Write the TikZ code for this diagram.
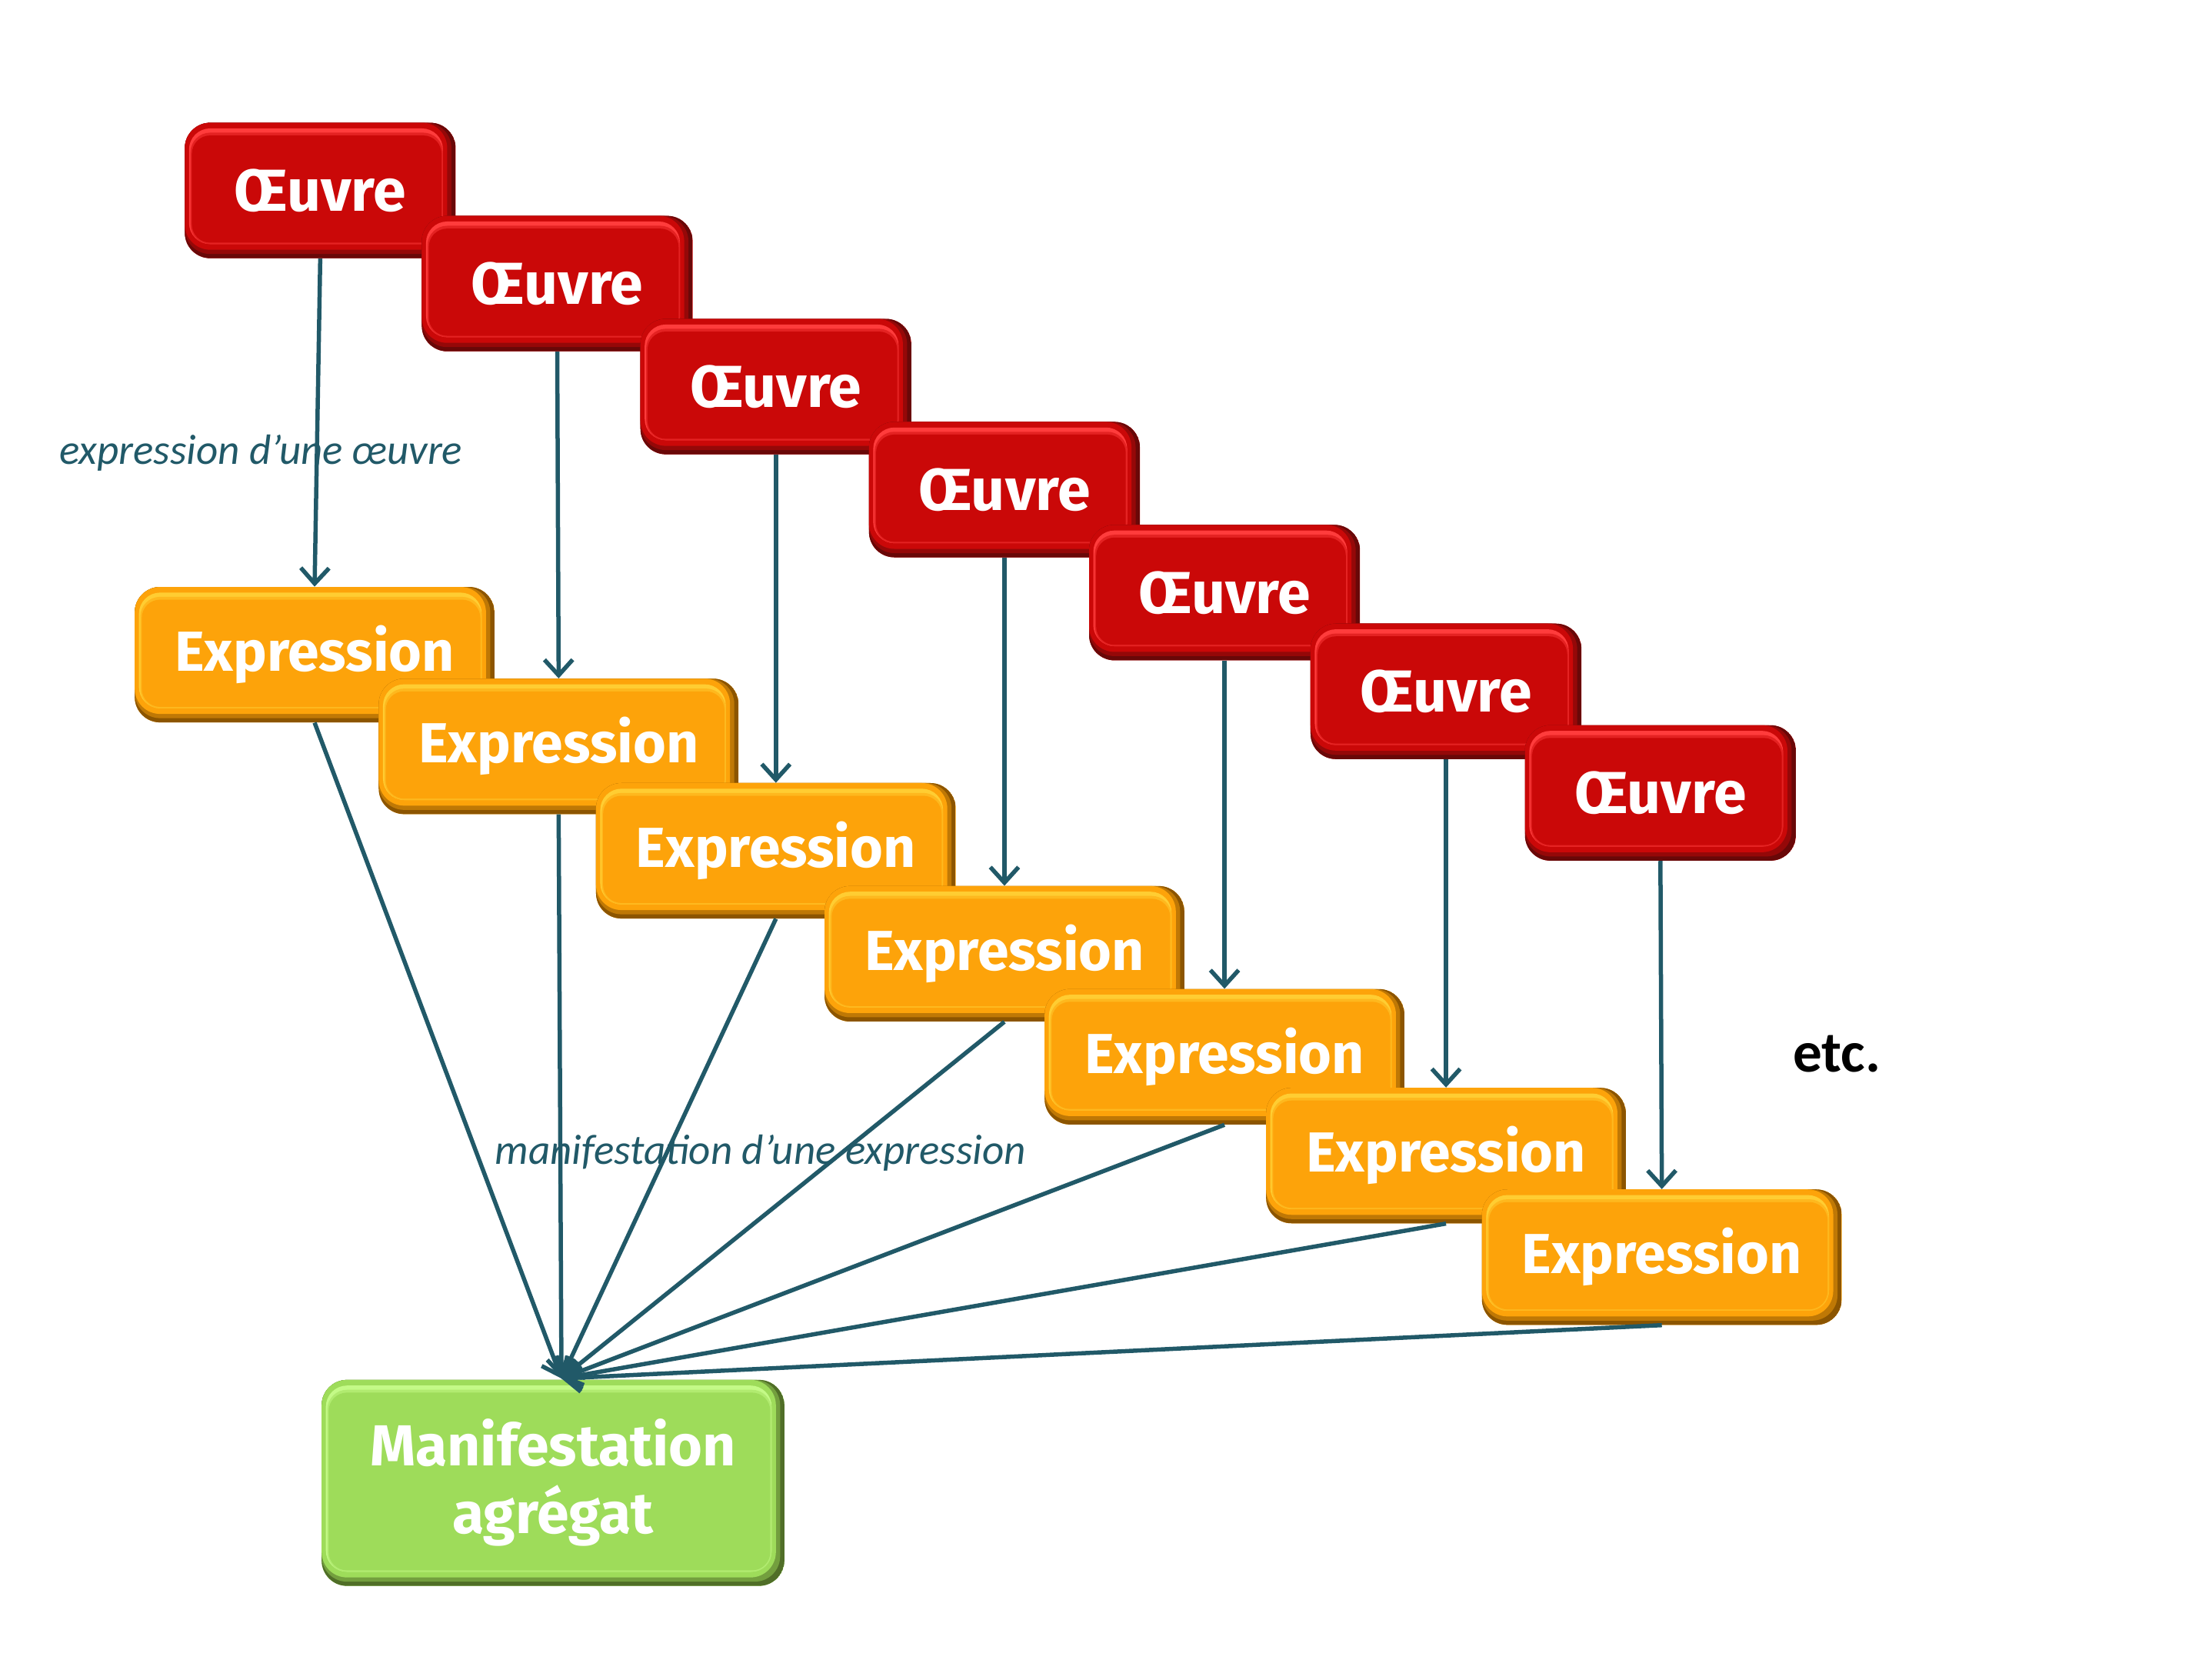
\documentclass[tikz,border=0pt]{standalone}
\usepackage{fontspec}
\setmainfont{Carlito}
\newfontfamily\boxfont{Fira Sans}
\usetikzlibrary{arrows.meta}
\definecolor{lnk}{RGB}{33,89,104}
\definecolor{rmain}{RGB}{202,8,8}
\definecolor{rlight}{RGB}{255,60,60}
\definecolor{rdark}{RGB}{105,8,8}
\definecolor{omain}{RGB}{253,163,10}
\definecolor{olight}{RGB}{255,205,50}
\definecolor{odark}{RGB}{140,85,0}
\definecolor{gmain}{RGB}{158,220,90}
\definecolor{glight}{RGB}{196,250,135}
\definecolor{gdark}{RGB}{80,110,40}
\tikzset{
  bevel/.style n args={3}{fill=#1, rounded corners=18pt, inner sep=0pt, text=white,
    font=\boxfont\bfseries\fontsize{40}{48}\selectfont, align=center,
    path picture={
      \fill[#3] (path picture bounding box.south west) rectangle (path picture bounding box.north east);
      \fill[#3!55!#1, rounded corners=18pt] ([xshift=0pt,yshift=3pt]path picture bounding box.south west) rectangle ([xshift=-3pt,yshift=0pt]path picture bounding box.north east);
      \fill[#1, rounded corners=18pt] ([xshift=0pt,yshift=6pt]path picture bounding box.south west) rectangle ([xshift=-6pt,yshift=0pt]path picture bounding box.north east);
      \fill[#2, rounded corners=15pt] ([xshift=3pt,yshift=10pt]path picture bounding box.south west) rectangle ([xshift=-9pt,yshift=-4pt]path picture bounding box.north east);
      \fill[#2!50!#1, rounded corners=14pt] ([xshift=4pt,yshift=10pt]path picture bounding box.south west) rectangle ([xshift=-9pt,yshift=-7pt]path picture bounding box.north east);
      \fill[#1, rounded corners=13pt] ([xshift=5pt,yshift=11pt]path picture bounding box.south west) rectangle ([xshift=-10pt,yshift=-9pt]path picture bounding box.north east);
    }},
  oeuvre/.style={bevel={rmain}{rlight}{rdark}, minimum width=192pt, minimum height=96pt,
    font=\boxfont\bfseries\fontsize{42}{48}\selectfont},
  expr/.style={bevel={omain}{olight}{odark}, minimum width=255pt, minimum height=96pt},
  manif/.style={bevel={gmain}{glight}{gdark}, minimum width=328pt, minimum height=146pt,
    font=\boxfont\bfseries\fontsize{41}{48}\selectfont},
  lbl/.style={text=lnk, font=\itshape\fontsize{30}{34}\selectfont, inner sep=0pt},
  conn/.style={draw=lnk, line width=3pt, -{Straight Barb[length=11pt,width=20pt,line width=3pt]}},
}
\begin{document}
\begin{tikzpicture}[x=1pt,y=-1pt]
\useasboundingbox (0,0) rectangle (1568,1176);
% labels (under the lines)
\node[lbl] (l1) at (185,321) {expression d’une œuvre};
\node[lbl] (l2) at (539,817) {manifestation d’une expression};
\node[font=\bfseries\fontsize{41}{44}\selectfont, inner sep=0pt] (etc) at (1302,747) {etc.};
% oeuvres
\node[oeuvre] (o1) at (227,135) {Œuvre};
\node[oeuvre] (o2) at (395,201) {Œuvre};
\node[oeuvre] (o3) at (550,274) {Œuvre};
\node[oeuvre] (o4) at (712,347) {Œuvre};
\node[oeuvre] (o5) at (868,420) {Œuvre};
\node[oeuvre] (o6) at (1025,490) {Œuvre};
\node[oeuvre] (o7) at (1177,562) {Œuvre};
% expressions
\node[expr] (e1) at (223,464) {Expression};
\node[expr] (e2) at (396,529) {Expression};
\node[expr] (e3) at (550,603) {Expression};
\node[expr] (e4) at (712,676) {Expression};
\node[expr] (e5) at (868,749) {Expression};
\node[expr] (e6) at (1025,819) {Expression};
\node[expr] (e7) at (1178,891) {Expression};
% manifestation
\node[manif] (m) at (392,1051) {Manifestation\\agrégat};
\coordinate (tip) at (398,977);
% connectors
\foreach \i in {1,...,7} {
  \draw[conn] (o\i.south) -- (e\i.north);
  \draw[conn] (e\i.south) -- (tip);
}
\end{tikzpicture}
\end{document}
